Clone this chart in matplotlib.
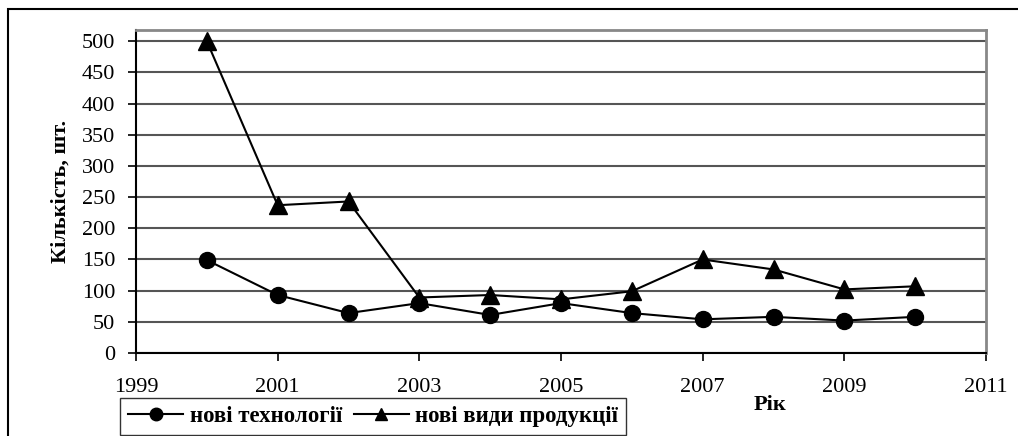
import matplotlib.pyplot as plt
from matplotlib.patches import Rectangle

# Дані
years = [2000, 2001, 2002, 2003, 2004, 2005, 2006, 2007, 2008, 2009, 2010]
tech = [149, 93, 64, 80, 61, 80, 64, 54, 58, 52, 58]
products = [500, 237, 243, 89, 93, 86, 99, 150, 134, 102, 107]

plt.rcParams['font.family'] = ['Liberation Serif', 'DejaVu Serif']

fig = plt.figure(figsize=(10.18, 4.36), dpi=100)
ax = fig.add_axes([136 / 1018, 1 - 353 / 436, 850 / 1018, 323 / 436])

# зовнішня рамка
fig.add_artist(Rectangle((8 / 1018, -0.1), 1.2, 1 - 9 / 436 + 0.1,
                         transform=fig.transFigure, fill=False,
                         edgecolor='black', linewidth=1.5))

ax.plot(years, tech, color='black', marker='o', markersize=11.5,
        linewidth=1.5, label='нові технології')
ax.plot(years, products, color='black', marker='^', markersize=13,
        linewidth=1.5, label='нові види продукції')

ax.set_xlim(1999, 2011)
ax.set_ylim(0, 518)
ax.set_xticks(range(1999, 2012, 2))
ax.set_yticks(range(0, 501, 50))
ax.yaxis.grid(True, color='#555555', linewidth=1.5)
ax.set_axisbelow(True)

ax.tick_params(axis='both', labelsize=16, direction='out', length=6,
               width=1.2, color='black')
ax.tick_params(axis='x', pad=12)
ax.tick_params(axis='y', pad=9)

ax.spines['left'].set_linewidth(1.5)
ax.spines['bottom'].set_linewidth(1.5)
for s in ('top', 'right'):
    ax.spines[s].set_color('#888888')
    ax.spines[s].set_linewidth(2)

ax.set_ylabel('Кількість, шт.', fontsize=16, fontweight='bold')
ax.yaxis.set_label_coords((71 - 136) / 850, 0.5)
fig.text(770 / 1018, 1 - 405 / 436, 'Рік', fontsize=16, fontweight='bold',
         ha='center', va='center')

leg = fig.legend(loc='upper left', bbox_to_anchor=(120 / 1018, 1 - 398 / 436),
                 ncol=2, frameon=True, fancybox=False,
                 prop={'weight': 'bold', 'size': 16.5}, handlelength=2.4,
                 columnspacing=0.5, handletextpad=0.3, borderpad=0.35,
                 borderaxespad=0)
leg.get_frame().set_edgecolor('black')
leg.get_frame().set_linewidth(1)
for h in leg.legend_handles:
    h.set_markersize(9)

fig.savefig('out.png', dpi=100)
